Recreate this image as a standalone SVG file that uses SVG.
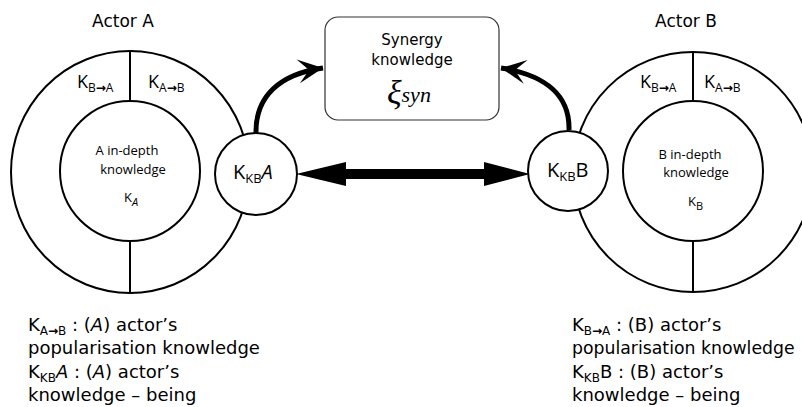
<svg xmlns="http://www.w3.org/2000/svg" width="802" height="407" viewBox="0 0 802 407">
<defs>
<style>
.ln{fill:none;stroke:#000;stroke-width:2}
.wf{fill:#fff;stroke:#000;stroke-width:2}
.cm{font-family:"DejaVu Sans",sans-serif;fill:#000}
.my{font-family:"Open Sans","DejaVu Sans",sans-serif;fill:#000}
.cur{fill:none;stroke:#000;stroke-width:5}
</style>
<marker id="barb" viewBox="-26 -13 28 26" refX="0" refY="0" markerWidth="28" markerHeight="26" markerUnits="userSpaceOnUse" orient="auto">
<path d="M0,0 L-25,-12 L-14,0 L-25,12 Z" fill="#000"/>
</marker>
</defs>
<rect width="802" height="407" fill="#fff"/>

<g id="actorA">
<text class="cm" x="123" y="27" font-size="17" text-anchor="middle">Actor A</text>
<ellipse class="ln" cx="130" cy="172" rx="119" ry="121"/>
<circle class="ln" cx="130" cy="171" r="70"/>
<line class="ln" x1="130" y1="51" x2="130" y2="101"/>
<line class="ln" x1="130" y1="241" x2="130" y2="293"/>
<text class="my" x="77" y="88" font-size="18">K<tspan font-size="12" dy="4">B<tspan font-weight="bold">→</tspan>A</tspan></text>
<text class="my" x="148" y="88" font-size="18">K<tspan font-size="12" dy="4">A<tspan font-weight="bold">→</tspan>B</tspan></text>
<text class="my" x="127" y="155" font-size="13" text-anchor="middle">A in-depth</text>
<text class="my" x="133" y="174" font-size="13" text-anchor="middle">knowledge</text>
<text class="my" x="124" y="202" font-size="13">K<tspan font-size="11" dy="4" font-style="italic">A</tspan></text>
</g>

<g id="actorB">
<text class="cm" x="686" y="27" font-size="17" text-anchor="middle">Actor B</text>
<circle class="ln" cx="693" cy="172" r="120"/>
<circle class="ln" cx="693" cy="171" r="70"/>
<line class="ln" x1="693" y1="51" x2="693" y2="101"/>
<line class="ln" x1="693" y1="241" x2="693" y2="293"/>
<text class="my" x="640" y="88" font-size="18">K<tspan font-size="12" dy="4">B<tspan font-weight="bold">→</tspan>A</tspan></text>
<text class="my" x="704" y="88" font-size="18">K<tspan font-size="12" dy="4">A<tspan font-weight="bold">→</tspan>B</tspan></text>
<text class="my" x="690" y="159" font-size="13" text-anchor="middle">B in-depth</text>
<text class="my" x="696" y="177" font-size="13" text-anchor="middle">knowledge</text>
<text class="my" x="688" y="206" font-size="13">K<tspan font-size="11" dy="4">B</tspan></text>
</g>

<g id="synergy">
<rect x="325" y="17" width="174" height="103" rx="13" fill="#fff" stroke="#333" stroke-width="1.2"/>
<text class="cm" x="412" y="45" font-size="15" text-anchor="middle">Synergy</text>
<text class="cm" x="412" y="65" font-size="15" text-anchor="middle">knowledge</text>
<text x="387" y="104" font-family="'Liberation Serif',serif" font-size="34" font-style="italic">ξ<tspan font-size="22" dy="-2">syn</tspan></text>
</g>

<g id="connectors">
<path class="cur" d="M256,134 C255,96 280,74 323,68" marker-end="url(#barb)"/>
<path class="cur" d="M569,130 C570,96 546,75 501,68" marker-end="url(#barb)"/>
<polygon points="296,174 346,162 346,169 484,169 484,162 530,174 484,186 484,179 346,179 346,186" fill="#000"/>
</g>

<g id="kkbA">
<circle class="wf" cx="256" cy="174" r="41"/>
<text class="my" x="233" y="179" font-size="20">K<tspan font-size="13" dy="4">KB</tspan><tspan dy="-4" font-style="italic">A</tspan></text>
</g>

<g id="kkbB">
<circle class="wf" cx="568" cy="171" r="40"/>
<text class="my" x="547" y="177" font-size="20">K<tspan font-size="13" dy="4">KB</tspan><tspan dy="-4">B</tspan></text>
</g>

<g id="legendA">
<text class="cm" x="28" y="331" font-size="18">K<tspan font-size="12" dy="4">A<tspan font-weight="bold">→</tspan>B</tspan><tspan dy="-4"> : (</tspan><tspan font-style="italic">A</tspan>) actor’s</text>
<text class="cm" x="28" y="354" font-size="18">popularisation knowledge</text>
<text class="cm" x="28" y="378" font-size="18">K<tspan font-size="12" dy="4">KB</tspan><tspan dy="-4" font-style="italic">A</tspan> : (<tspan font-style="italic">A</tspan>) actor’s</text>
<text class="cm" x="28" y="401" font-size="18">knowledge – being</text>
</g>

<g id="legendB">
<text class="cm" x="572" y="331" font-size="18">K<tspan font-size="12" dy="4">B<tspan font-weight="bold">→</tspan>A</tspan><tspan dy="-4"> : (B) actor’s</tspan></text>
<text class="cm" x="572" y="354" font-size="17.3">popularisation knowledge</text>
<text class="cm" x="572" y="378" font-size="18">K<tspan font-size="12" dy="4">KB</tspan><tspan dy="-4">B : (B) actor’s</tspan></text>
<text class="cm" x="572" y="401" font-size="18">knowledge – being</text>
</g>
</svg>
